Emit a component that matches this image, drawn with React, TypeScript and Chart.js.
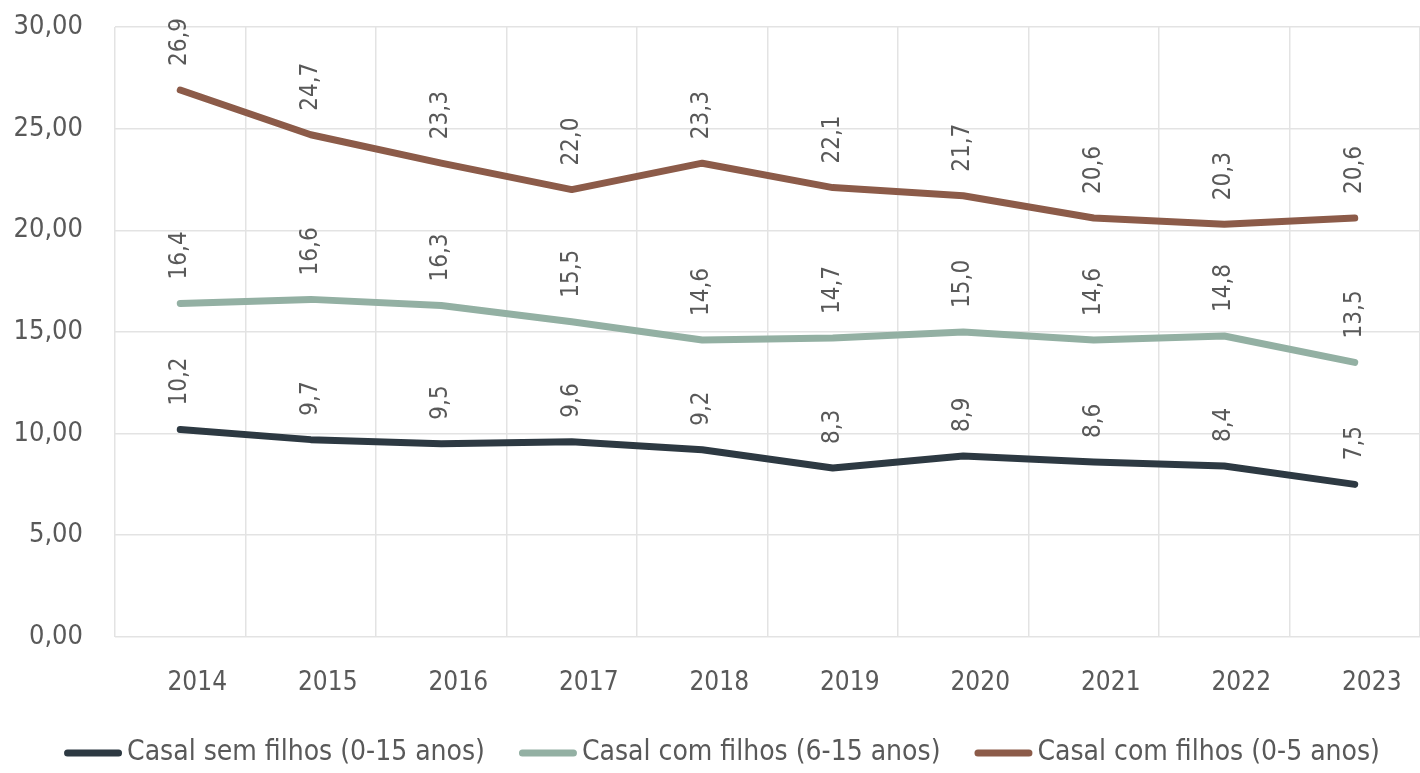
import React, { useEffect, useRef } from "react";
import { Chart, registerables } from "chart.js";

Chart.register(...registerables);

const years = ["2014", "2015", "2016", "2017", "2018", "2019", "2020", "2021", "2022", "2023"];
const semFilhos = [10.2, 9.7, 9.5, 9.6, 9.2, 8.3, 8.9, 8.6, 8.4, 7.5];
const comFilhos615 = [16.4, 16.6, 16.3, 15.5, 14.6, 14.7, 15.0, 14.6, 14.8, 13.5];
const comFilhos05 = [26.9, 24.7, 23.3, 22.0, 23.3, 22.1, 21.7, 20.6, 20.3, 20.6];
const seriesNames = ["Casal sem filhos (0-15 anos)", "Casal com filhos (6-15 anos)", "Casal com filhos (0-5 anos)"];
const seriesColors = ["#2D3942", "#93B0A3", "#8C5B49"];

const FONT = "'Liberation Sans Narrow', 'DejaVu Sans Condensed', 'Noto Sans', sans-serif";
const TEXT = "#595959";

const labelPlugin = {
  id: "rotLabels",
  afterDatasetsDraw(chart: any) {
    const ctx = chart.ctx;
    ctx.save();
    ctx.font = `24px ${FONT}`;
    ctx.fillStyle = TEXT;
    ctx.textAlign = "left";
    ctx.textBaseline = "middle";
    chart.data.datasets.forEach((ds: any, i: number) => {
      const meta = chart.getDatasetMeta(i);
      meta.data.forEach((pt: any, j: number) => {
        const v = ds.data[j] as number;
        ctx.save();
        ctx.translate(pt.x, pt.y - 24);
        ctx.rotate(-Math.PI / 2);
        ctx.fillText(v.toFixed(1).replace(".", ","), 0, 0);
        ctx.restore();
      });
    });
    ctx.restore();
  },
};

const legendPlugin = {
  id: "customLegend",
  afterDraw(chart: any) {
    const ctx = chart.ctx;
    ctx.save();
    ctx.font = `28px ${FONT}`;
    ctx.textBaseline = "middle";
    ctx.textAlign = "left";
    const markerW = 58;
    const gapText = 5;
    const gapItem = 34;
    const widths = chart.data.datasets.map((ds: any) => markerW + gapText + ctx.measureText(ds.label).width);
    const total = widths.reduce((a: number, b: number) => a + b, 0) + gapItem * (widths.length - 1);
    let x = (chart.width - total) / 2 + 12;
    const y = chart.height - 20;
    chart.data.datasets.forEach((ds: any, i: number) => {
      ctx.strokeStyle = ds.borderColor;
      ctx.lineWidth = 7;
      ctx.lineCap = "round";
      ctx.beginPath();
      ctx.moveTo(x + 3.5, y);
      ctx.lineTo(x + markerW - 3.5, y);
      ctx.stroke();
      ctx.fillStyle = TEXT;
      ctx.fillText(ds.label, x + markerW + gapText, y);
      x += widths[i] + gapItem;
    });
    ctx.restore();
  },
};

export default function App() {
  const ref = useRef<HTMLCanvasElement>(null);
  useEffect(() => {
    if (!ref.current) return;
    const data = [semFilhos, comFilhos615, comFilhos05];
    const chart = new Chart(ref.current, {
      type: "line",
      data: {
        labels: years,
        datasets: data.map((d, i) => ({
          label: seriesNames[i],
          data: d,
          borderColor: seriesColors[i],
          backgroundColor: seriesColors[i],
          borderWidth: 7,
          borderCapStyle: "round",
          borderJoinStyle: "round",
          pointRadius: 0,
          tension: 0,
        })),
      },
      options: {
        animation: false,
        responsive: false,
        maintainAspectRatio: false,
        layout: { padding: { top: 0, right: 0, left: 14, bottom: 43 } },
        plugins: {
          tooltip: { enabled: false },
          legend: { display: false },
        },
        scales: {
          x: {
            offset: true,
            grid: { offset: true, color: "#E3E3E3", lineWidth: 1.5, drawTicks: false },
            border: { display: false },
            ticks: { color: TEXT, font: { family: FONT, size: 26 }, padding: 31, labelOffset: 17 },
          },
          y: {
            min: 0,
            max: 30,
            grid: { color: "#E3E3E3", lineWidth: 1.5, drawTicks: false },
            border: { display: false },
            afterFit: (scale: any) => {
              scale.width = 101;
              scale.paddingTop = 27;
            },
            ticks: {
              stepSize: 5,
              color: TEXT,
              font: { family: FONT, size: 27 },
              padding: 32,
              callback: (v: any) => Number(v).toFixed(2).replace(".", ","),
            },
          },
        },
      },
      plugins: [labelPlugin, legendPlugin],
    });
    return () => chart.destroy();
  }, []);
  return (
    <div style={{ position: "fixed", left: 0, top: 0, width: 1420, height: 773, background: "#fff" }}>
      <canvas ref={ref} width={1420} height={773} />
    </div>
  );
}
